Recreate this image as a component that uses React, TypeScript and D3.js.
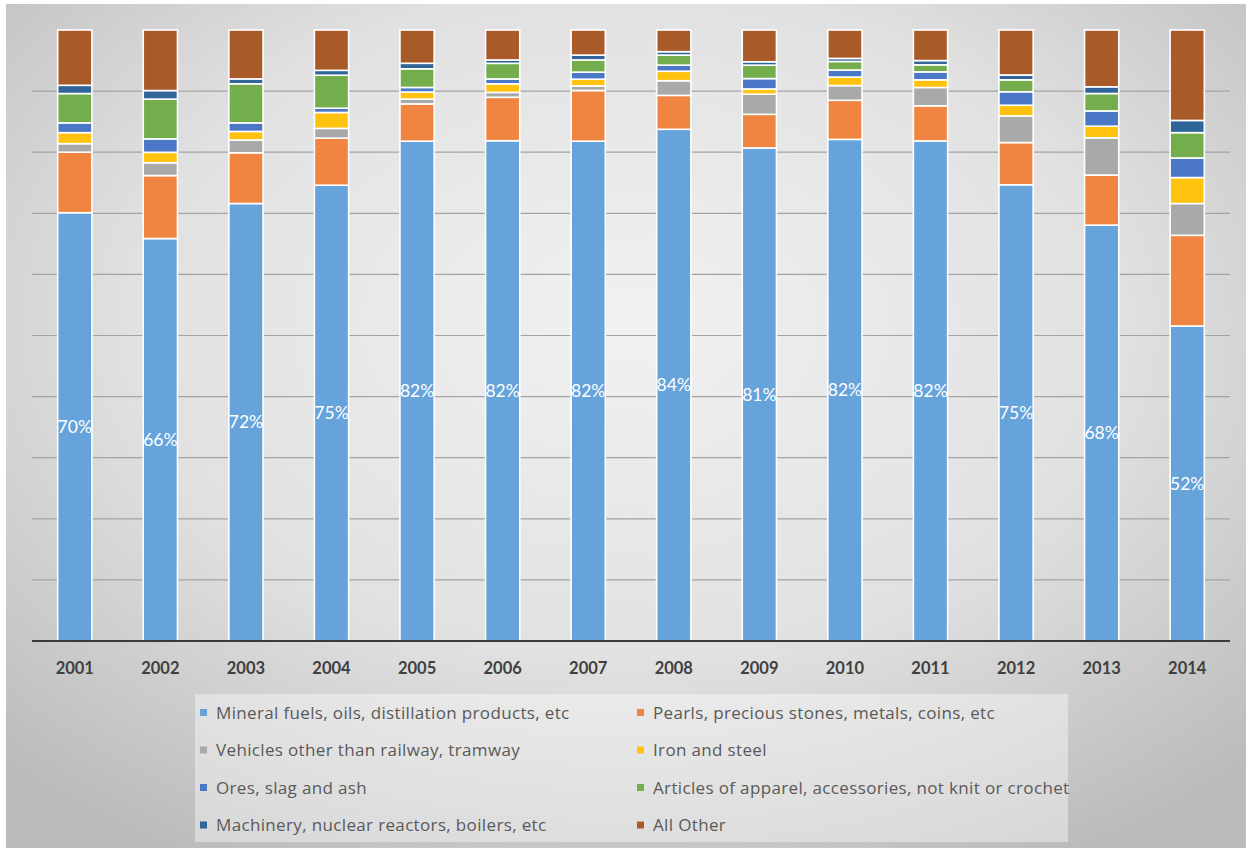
import React from "react";
import * as d3 from "d3";

const years = ["2001","2002","2003","2004","2005","2006","2007","2008","2009","2010","2011","2012","2013","2014"];
const seriesNames = [
  "Mineral fuels, oils, distillation products, etc",
  "Pearls, precious stones, metals, coins, etc",
  "Vehicles other than railway, tramway",
  "Iron and steel",
  "Ores, slag and ash",
  "Articles of apparel, accessories, not knit or crochet",
  "Machinery, nuclear reactors, boilers, etc",
  "All Other",
];
const mineral   = [70.1, 65.8, 71.6, 74.6, 81.8, 81.8, 81.8, 83.75, 80.7, 82.1, 81.8, 74.6, 68.1, 51.55];
const pearls    = [9.9, 10.3, 8.3, 7.7, 6.1, 7.1, 8.3, 5.55, 5.5, 6.4, 5.75, 6.9, 8.2, 14.85];
const vehicles  = [1.4, 2.1, 2.1, 1.6, 0.8, 0.8, 0.75, 2.4, 3.3, 2.4, 3.0, 4.35, 6.1, 5.2];
const iron      = [1.8, 1.7, 1.4, 2.6, 1.15, 1.4, 1.1, 1.55, 0.85, 1.4, 1.25, 1.75, 1.9, 4.25];
const ores      = [1.6, 2.2, 1.4, 0.7, 0.75, 0.8, 1.15, 1.0, 1.7, 1.15, 1.3, 2.2, 2.5, 3.2];
const apparel   = [4.8, 6.5, 6.4, 5.4, 3.05, 2.55, 2.0, 1.65, 2.2, 1.4, 1.15, 1.95, 2.85, 4.15];
const machinery = [1.35, 1.4, 0.8, 0.8, 0.9, 0.55, 0.8, 0.55, 0.55, 0.5, 0.7, 0.8, 1.1, 2.0];
const allOther  = [9.05, 9.9, 8.0, 6.6, 5.45, 4.9, 4.1, 3.55, 5.2, 4.65, 5.0, 7.35, 9.3, 14.8];
const colors = ["#66a3da", "#ef8540", "#a9a9a9", "#ffc20e", "#4a78c6", "#74ae4c", "#2f6598", "#a85a28"];
const yTicks = [10, 20, 30, 40, 50, 60, 70, 80, 90];

const seriesValues = [mineral, pearls, vehicles, iron, ores, apparel, machinery, allOther];

export default function App() {
  const W = 1250, H = 850;
  const left = 32, right = 1230, top = 30, bottom = 641;
  const keys = seriesNames.map((_, i) => "s" + i);
  const rows = years.map((y, j) => {
    const r: any = { year: y };
    seriesValues.forEach((arr, i) => (r["s" + i] = arr[j]));
    return r;
  });
  const stacked = d3.stack<any>().keys(keys).offset(d3.stackOffsetExpand)(rows);
  const x = d3.scaleBand<string>().domain(years).range([left, right]).paddingInner(0.6).paddingOuter(0.3);
  const y = d3.scaleLinear().domain([0, 1]).range([bottom, top]);
  const yg = d3.scaleLinear().domain([0, 100]).range([bottom, top]);
  const font = "Lato, 'Open Sans', sans-serif";
  const legendFont = "'Open Sans', Lato, sans-serif";

  const legendY0 = 713, legendStep = 37.5;
  const legendCols = [200, 637];

  return (
    <div style={{ position: "fixed", left: 0, top: 0 }}>
      <svg width={W} height={H} style={{ display: "block" }}>
        <defs>
          <radialGradient id="bg" cx="50%" cy="38%" r="72%">
            <stop offset="0%" stopColor="#f1f1f1" />
            <stop offset="55%" stopColor="#e1e1e1" />
            <stop offset="100%" stopColor="#bbbbbb" />
          </radialGradient>
        </defs>
        <rect x={0} y={0} width={W} height={H} fill="#ffffff" />
        <rect x={6} y={4} width={1240} height={844} fill="url(#bg)" />
        {yTicks.map((t) => (
          <line key={t} x1={left} x2={right} y1={yg(t)} y2={yg(t)} stroke="#a3a3a3" strokeWidth={1.2} />
        ))}
        {stacked.map((s, i) => (
          <g key={s.key} fill={colors[i]}>
            {s.map((d, j) => (
              <rect
                key={j}
                x={x(years[j])}
                width={x.bandwidth()}
                y={y(d[1])}
                height={y(d[0]) - y(d[1])}
                stroke="#ffffff"
                strokeWidth={1.6}
              />
            ))}
          </g>
        ))}
        {stacked[0].map((d, j) => (
          <text
            key={j}
            x={(x(years[j]) as number) + x.bandwidth() / 2}
            y={(y(d[0]) + y(d[1])) / 2}
            dy="0.35em"
            textAnchor="middle"
            fill="#ffffff"
            fontFamily={font}
            fontSize={17.5}
          >
            {Math.round((d[1] - d[0]) * 100) + "%"}
          </text>
        ))}
        <line x1={left} x2={right} y1={bottom} y2={bottom} stroke="#3a3a3a" strokeWidth={2.2} />
        {years.map((yr) => (
          <text
            key={yr}
            x={(x(yr) as number) + x.bandwidth() / 2}
            y={674}
            textAnchor="middle"
            fill="#404040"
            fontFamily={font}
            fontWeight="bold"
            fontSize={16.5}
          >
            {yr}
          </text>
        ))}
        <rect x={195} y={694} width={873} height={148} fill="#ffffff" fillOpacity={0.4} />
        {seriesNames.map((name, i) => {
          const col = i % 2;
          const row = Math.floor(i / 2);
          const ly = legendY0 + row * legendStep;
          const lx = legendCols[col];
          return (
            <g key={name}>
              <rect x={lx} y={ly - 4} width={7} height={7} fill={colors[i]} />
              <text x={lx + 16} y={ly} dy="0.35em" fill="#595959" fontFamily={legendFont} fontSize={17} letterSpacing={0.35}>
                {name}
              </text>
            </g>
          );
        })}
      </svg>
    </div>
  );
}
